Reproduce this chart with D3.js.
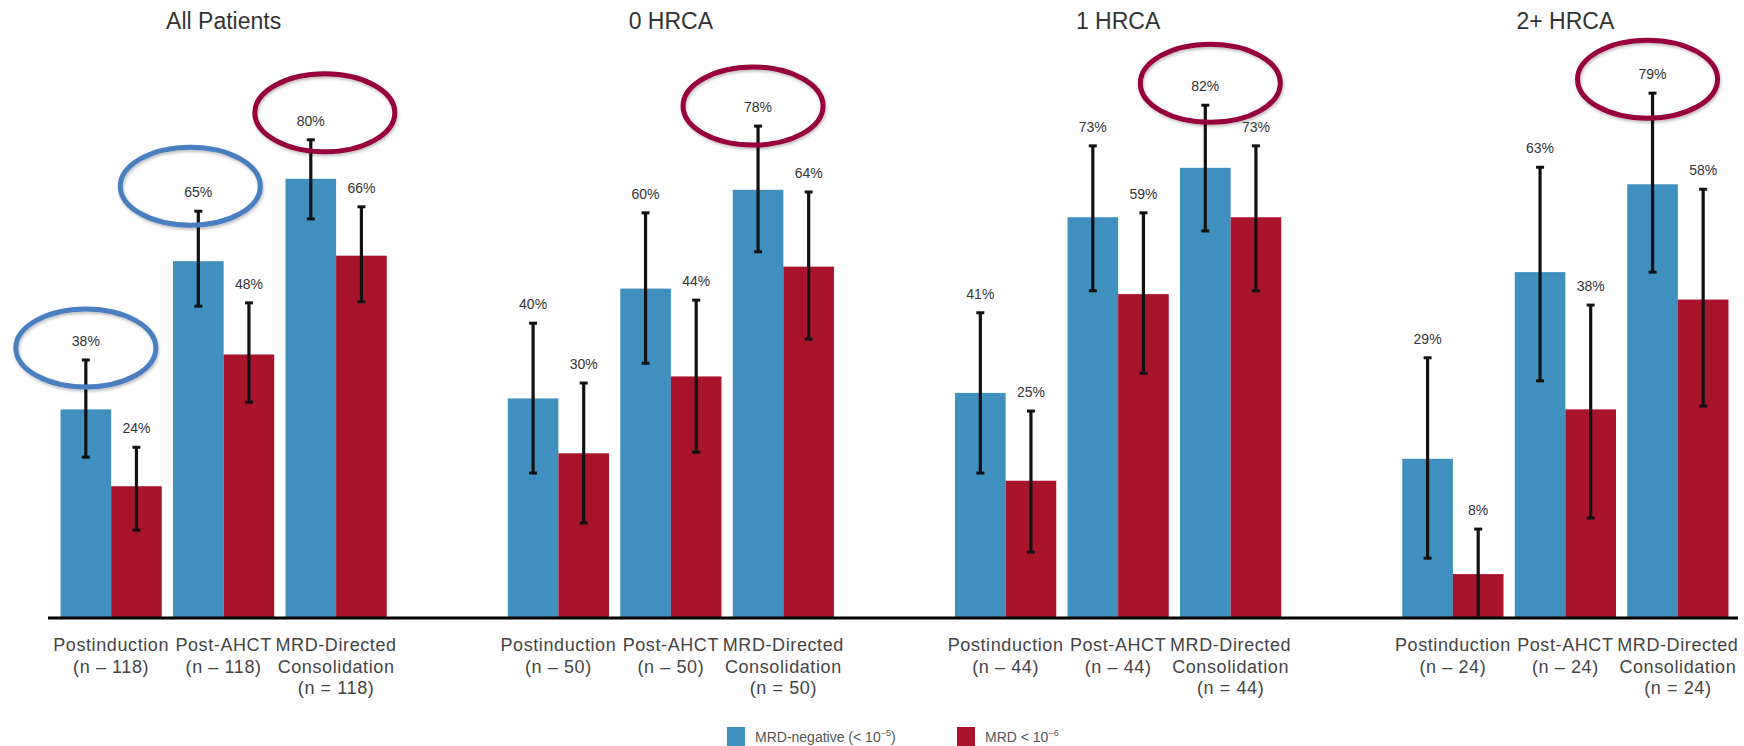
<!DOCTYPE html>
<html>
<head>
<meta charset="utf-8">
<script src="https://cdn.jsdelivr.net/npm/d3@7"></script>
<style>
  html, body { margin: 0; padding: 0; background: #fff; }
  svg { display: block; font-family: "Liberation Sans", Arial, sans-serif; }
</style>
</head>
<body>
<svg id="chart" width="1744" height="746"></svg>
<script>
// ---------------- data ----------------
const panels = ["All Patients", "0 HRCA", "1 HRCA", "2+ HRCA"];
const panelN = [118, 50, 44, 24];
const stages = ["Postinduction", "Post-AHCT", "MRD-Directed Consolidation"];
const stageLabelLines = [
  ["Postinduction", "(n – {n})"],
  ["Post-AHCT", "(n – {n})"],
  ["MRD-Directed", "Consolidation", "(n = {n})"]
];
const seriesKeys = ["neg5", "lt6"];
const seriesNames = ["MRD-negative (< 10", "MRD < 10"];
const seriesExp = ["−5", "−6"];
const seriesTail = [")", ""];

// MRD-negative (< 10^-5): value, lower CI, upper CI per panel x stage
const negValues = [[38, 65, 80], [40, 60, 78], [41, 73, 82], [29, 63, 79]];
const negLow    = [[29.3, 56.8, 72.7], [26.4, 46.4, 66.7], [26.4, 59.6, 70.5], [10.9, 43.2, 63.0]];
const negHigh   = [[47.0, 74.1, 87.1], [53.7, 73.8, 89.6], [55.6, 86.0, 93.4], [47.4, 82.1, 95.6]];
// MRD < 10^-6
const lt6Values = [[24, 48, 66], [30, 44, 64], [25, 59, 73], [8, 38, 58]];
const lt6Low    = [[16.0, 39.3, 57.6], [17.3, 30.2, 50.8], [12.0, 44.6, 59.6], [0, 18.2, 38.6]];
const lt6High   = [[31.1, 57.4, 74.9], [42.8, 57.9, 77.6], [37.7, 73.8, 86.0], [16.2, 57.0, 78.1]];

// highlighted labels (annotation ellipses): panel, stage, series index
const highlights = [
  { p: 0, s: 0, k: 0, color: "blue", dx: 0, dy: 7 },
  { p: 0, s: 1, k: 0, color: "blue", dx: -8, dy: -6 },
  { p: 0, s: 2, k: 0, color: "red", dx: 14, dy: -8 },
  { p: 1, s: 2, k: 0, color: "red", dx: -5, dy: -1 },
  { p: 2, s: 2, k: 0, color: "red", dx: 5, dy: -3 },
  { p: 3, s: 2, k: 0, color: "red", dx: -5, dy: 5 }
];

// ---------------- styles / layout ----------------
const colors = { neg5: "#3f90be", lt6: "#a9142a" };
const ringColors = { blue: "#4a7ec0", red: "#97003a" };

const svg = d3.select("#chart");

const x0 = d3.scaleBand().domain(panels).range([0, 1789]);
const x1 = d3.scaleBand().domain(stages).range([-163.1, 163.1]).paddingInner(0.1);
const x2 = d3.scaleBand().domain(seriesKeys).range([0, x1.bandwidth()]);
const y = d3.scaleLinear().domain([0, 100]).range([618, 69]);

const pc = p => x0(p) + x0.bandwidth() / 2;

// build records
const records = [];
panels.forEach((p, pi) => {
  stages.forEach((s, si) => {
    seriesKeys.forEach((k, ki) => {
      const v = ki === 0 ? negValues : lt6Values;
      const lo = ki === 0 ? negLow : lt6Low;
      const hi = ki === 0 ? negHigh : lt6High;
      records.push({ p, pi, s, si, k, ki, value: v[pi][si], low: lo[pi][si], high: hi[pi][si] });
    });
  });
});
const barX = d => pc(d.p) + x1(d.s) + x2(d.k);
const barC = d => barX(d) + x2.bandwidth() / 2;

// bars
svg.append("g").selectAll("rect").data(records).join("rect")
  .attr("x", barX)
  .attr("y", d => y(d.value))
  .attr("width", x2.bandwidth())
  .attr("height", d => y(0) - y(d.value))
  .attr("fill", d => colors[d.k]);

// baseline axis
svg.append("line")
  .attr("x1", 48).attr("x2", 1738)
  .attr("y1", y(0)).attr("y2", y(0))
  .attr("stroke", "#000").attr("stroke-width", 3);

// error bars
const eb = svg.append("g").attr("stroke", "#111");
eb.selectAll("line.v").data(records).join("line").attr("class", "v")
  .attr("x1", barC).attr("x2", barC)
  .attr("y1", d => y(d.low)).attr("y2", d => y(d.high))
  .attr("stroke-width", 3.2);
eb.selectAll("line.t").data(records).join("line").attr("class", "t")
  .attr("x1", d => barC(d) - 4).attr("x2", d => barC(d) + 4)
  .attr("y1", d => y(d.high)).attr("y2", d => y(d.high))
  .attr("stroke-width", 3);
eb.selectAll("line.b").data(records.filter(d => d.low > 0)).join("line").attr("class", "b")
  .attr("x1", d => barC(d) - 4).attr("x2", d => barC(d) + 4)
  .attr("y1", d => y(d.low)).attr("y2", d => y(d.low))
  .attr("stroke-width", 3);

// value labels
const labelCY = d => y(d.high) - 19;
svg.append("g").selectAll("text").data(records).join("text")
  .attr("x", barC)
  .attr("y", d => labelCY(d) + 5)
  .attr("text-anchor", "middle")
  .attr("font-size", 14)
  .attr("fill", "#333")
  .text(d => d.value + "%");

// titles
svg.append("g").selectAll("text").data(panels).join("text")
  .attr("x", d => pc(d) + x1(stages[1]) + x1.bandwidth() / 2)
  .attr("y", 29)
  .attr("text-anchor", "middle")
  .attr("font-size", 23)
  .attr("fill", "#333")
  .text(d => d);

// stage labels
const catRecords = [];
panels.forEach((p, pi) => stages.forEach((s, si) => catRecords.push({ p, pi, s, si })));
const cat = svg.append("g").selectAll("text").data(catRecords).join("text")
  .attr("x", d => pc(d.p) + x1(d.s) + x1.bandwidth() / 2)
  .attr("y", 651)
  .attr("text-anchor", "middle")
  .attr("font-size", 18)
  .attr("letter-spacing", 0.6)
  .attr("fill", "#444");
cat.each(function (d) {
  const lines = stageLabelLines[d.si];
  d3.select(this).selectAll("tspan").data(lines).join("tspan")
    .attr("x", pc(d.p) + x1(d.s) + x1.bandwidth() / 2)
    .attr("dy", (l, i) => i === 0 ? 0 : 21.5)
    .text(l => l.replace("{n}", panelN[d.pi]));
});

// annotation ellipses
const defs = svg.append("defs");
const f = defs.append("filter").attr("id", "shadow").attr("x", "-20%").attr("y", "-20%").attr("width", "140%").attr("height", "140%");
f.append("feDropShadow").attr("dx", 1).attr("dy", 2).attr("stdDeviation", 1.5).attr("flood-color", "#000").attr("flood-opacity", 0.25);

svg.append("g").selectAll("ellipse").data(highlights).join("ellipse")
  .attr("cx", h => {
    const r = records.find(d => d.pi === h.p && d.si === h.s && d.ki === h.k);
    return barC(r) + h.dx;
  })
  .attr("cy", h => {
    const r = records.find(d => d.pi === h.p && d.si === h.s && d.ki === h.k);
    return labelCY(r) + h.dy;
  })
  .attr("rx", 70).attr("ry", 39)
  .attr("fill", "none")
  .attr("stroke", h => ringColors[h.color])
  .attr("stroke-width", 5)
  .attr("filter", "url(#shadow)");

// legend
const legend = svg.append("g").attr("transform", "translate(727,727)");
const li = legend.selectAll("g").data(seriesKeys).join("g")
  .attr("transform", (d, i) => `translate(${i * 230},0)`);
li.append("rect").attr("width", 18).attr("height", 19).attr("fill", d => colors[d]);
const lt = li.append("text").attr("x", 28).attr("y", 15).attr("font-size", 14).attr("fill", "#555");
lt.append("tspan").text((d, i) => seriesNames[i]);
lt.append("tspan").attr("font-size", 9).attr("dy", -6).text((d, i) => seriesExp[i]);
lt.append("tspan").attr("dy", 6).text((d, i) => seriesTail[i]);
</script>
</body>
</html>
